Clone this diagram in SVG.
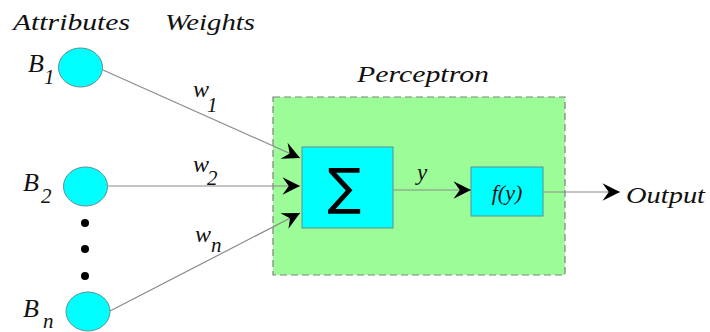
<svg xmlns="http://www.w3.org/2000/svg" width="710" height="332" viewBox="0 0 710 332">
<style>
text{font-family:'Liberation Serif','Times New Roman',Times,serif}
.t{font-style:italic;fill:#111}
.lbl{font-size:23px}
.sub{font-size:21px}
.node{fill:#00FFFF;stroke:#5f8f8f;stroke-width:1}
.conn{stroke:#8a8a8a;stroke-width:1.2;fill:none}
</style>
<defs>
<marker id="ah" markerUnits="userSpaceOnUse" markerWidth="20" markerHeight="20" viewBox="-15 -8 16 16" refX="0" refY="0" orient="auto">
<path d="M-14,-7 L0,0 L-14,7 L-9,0 Z" fill="#000"/>
</marker>
</defs>
<rect width="710" height="332" fill="#fff"/>

<text class="t lbl" x="13" y="30" textLength="117" lengthAdjust="spacingAndGlyphs">Attributes</text>
<text class="t lbl" x="165" y="30" textLength="90" lengthAdjust="spacingAndGlyphs">Weights</text>

<g id="perceptron">
<rect x="273" y="97" width="292" height="178" fill="#9cfc98" stroke="#808080" stroke-width="1.2" stroke-dasharray="7,4"/>
<text class="t lbl" x="357" y="82" textLength="132" lengthAdjust="spacingAndGlyphs">Perceptron</text>
</g>

<g id="B1">
<ellipse class="node" cx="80.5" cy="67.5" rx="22" ry="19.5"/>
<text class="t" x="28" y="72" font-size="26">B</text>
<text class="t sub" x="44" y="84">1</text>
</g>
<g id="B2">
<ellipse class="node" cx="85.5" cy="186.5" rx="22" ry="19.5"/>
<text class="t" x="23" y="191" font-size="26">B</text>
<text class="t sub" x="41" y="203">2</text>
</g>
<g id="dots">
<circle cx="85" cy="223" r="4" fill="#000"/>
<circle cx="85" cy="249" r="4" fill="#000"/>
<circle cx="85" cy="276" r="4" fill="#000"/>
</g>
<g id="Bn">
<ellipse class="node" cx="88" cy="311.5" rx="22" ry="19.5"/>
<text class="t" x="23" y="317" font-size="26">B</text>
<text class="t sub" x="43" y="328">n</text>
</g>

<g id="sum">
<rect class="node" x="302" y="147" width="91" height="81"/>
<text x="344" y="204" style="font-family:'DejaVu Sans',sans-serif" font-size="50" text-anchor="middle" fill="#000">∑</text>
</g>
<g id="activation">
<rect class="node" x="471" y="167" width="72" height="49"/>
<text class="t" x="507" y="200" font-size="22" text-anchor="middle">f(y)</text>
</g>

<g id="connectors">
<line class="conn" x1="103" y1="70" x2="300" y2="158" marker-end="url(#ah)"/>
<line class="conn" x1="108" y1="186" x2="300" y2="186" marker-end="url(#ah)"/>
<line class="conn" x1="110" y1="311" x2="300" y2="213" marker-end="url(#ah)"/>
<line class="conn" x1="393" y1="190" x2="471" y2="190" marker-end="url(#ah)"/>
<line class="conn" x1="543" y1="192" x2="620" y2="192" marker-end="url(#ah)"/>
<text class="t" x="193" y="97" font-size="24">w</text>
<text class="t sub" x="207" y="112">1</text>
<text class="t" x="193" y="172" font-size="24">w</text>
<text class="t sub" x="207" y="185">2</text>
<text class="t" x="195" y="242" font-size="24">w</text>
<text class="t sub" x="211" y="252">n</text>
<text class="t" x="417" y="180" font-size="23">y</text>
<text class="t lbl" x="626" y="203" textLength="79" lengthAdjust="spacingAndGlyphs">Output</text>
</g>
</svg>
